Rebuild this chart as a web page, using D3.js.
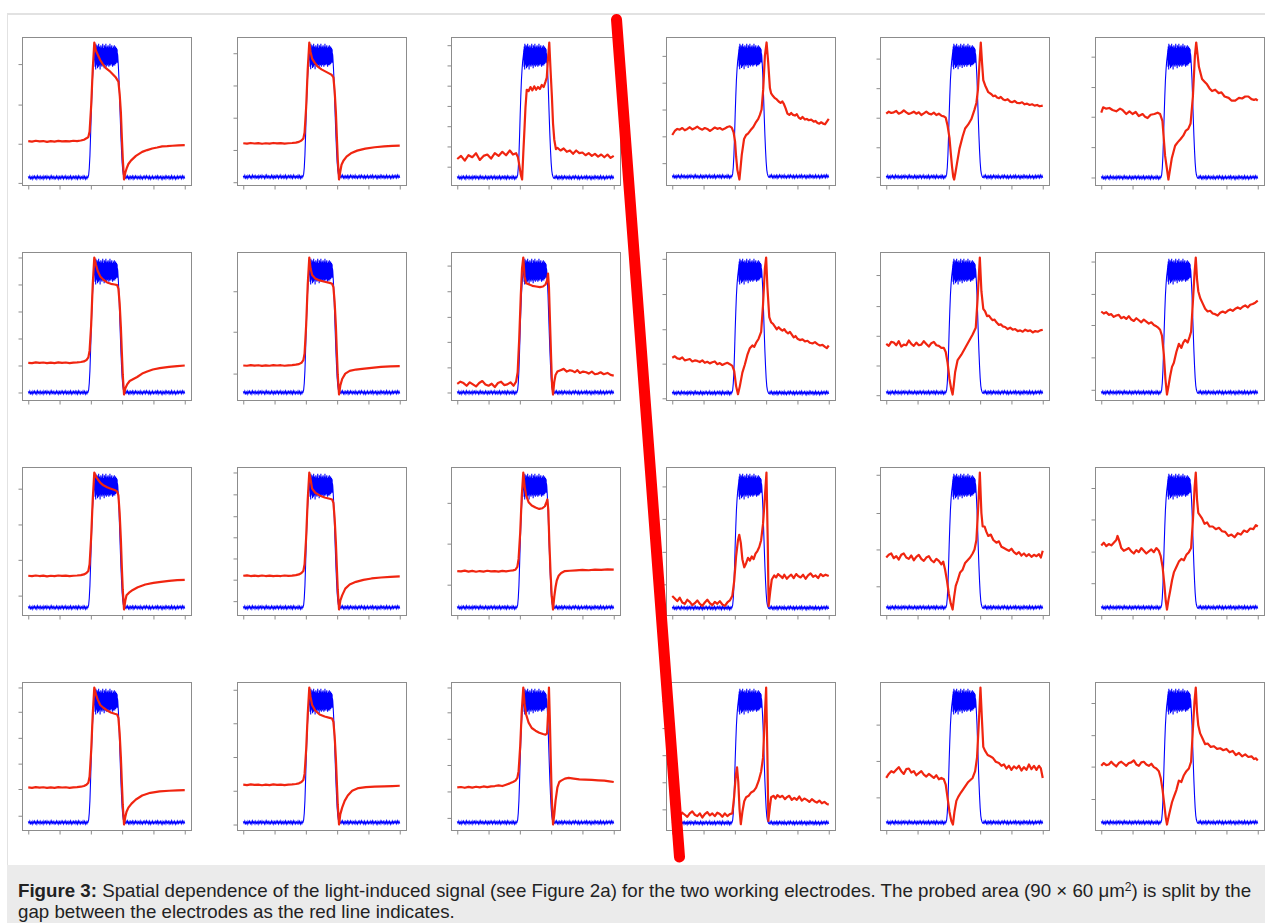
<!DOCTYPE html>
<html>
<head>
<meta charset="utf-8">
<script src="https://cdn.jsdelivr.net/npm/d3@7"></script>
<style>
html,body{margin:0;padding:0;background:#fff;}
svg{display:block;}
</style>
</head>
<body>
<svg id="fig" width="1265" height="923"></svg>
<script>
// ---------------- DATA ----------------
// time axis (arbitrary units, 0..250) and normalized signal (0 = light off level, 1 = peak)
const xTicks = [0, 50, 100, 150, 200, 250];

// blue reference trace (light pulse), same in every panel
const blueBefore = [0.008,-0.006,0.011,-0.009,0.004,-0.012,0.009,-0.005,0.010,-0.008,
 0.006,-0.011,0.012,-0.004,0.007,-0.010,0.009,-0.007,0.005,-0.012,
 0.010,-0.006,0.008,-0.009,0.011,-0.005,0.006,-0.011,0.009,-0.008,
 0.012,-0.006,0.007,-0.010,0.005,-0.009,0.011,-0.007,0.008,-0.012,
 0.006,-0.008,0.010,-0.005,0.009,-0.011,0.007,-0.006,0.012,-0.009,
 0.005,-0.010,0.008,-0.007,0.011,-0.012,0.006,-0.008,0.009,-0.005,
 0.010,-0.009,0.007,-0.011,0.012,-0.006,0.008,-0.010,0.005,-0.007,
 0.011,-0.008,0.009,-0.012,0.006,-0.009,0.007];
const blueRise = [[95.5,0.004],[96.5,0.02],[97.5,0.07],[98.5,0.16],[99.5,0.3],[100.5,0.46],[101.5,0.6],[102.5,0.72],[103.5,0.8],[104.5,0.86],[105.5,0.9],[106.25,0.93]];
const bluePlateau = [0.95,0.82,0.97,0.86,0.92,0.80,0.99,0.85,0.94,0.83,0.96,0.87,0.91,0.84,0.98,0.86,0.93,0.81,0.97,0.88,
 0.94,0.84,0.96,0.82,0.99,0.87,0.92,0.85,0.95,0.83,0.97,0.86,0.93,0.80,0.96,0.88,0.94,0.84,0.98,0.85,
 0.92,0.83,0.96,0.87,0.94,0.82,0.97,0.86,0.91,0.84,0.99,0.85,0.95,0.83,0.93,0.88,0.96,0.84,0.94,0.81,
 0.98,0.86,0.92,0.84,0.97,0.87,0.95,0.83,0.93,0.85,0.99,0.86,0.94,0.82,0.96,0.88,0.92,0.84,0.97,0.85,
 0.95,0.83,0.93,0.87,0.98,0.84,0.94,0.86,0.96,0.82,0.92,0.88,0.97,0.85,0.95,0.83,0.99,0.86,0.93,0.84,
 0.96,0.87,0.94,0.83,0.97,0.85,0.92,0.86,0.98,0.84,0.95,0.88,0.93,0.82,0.96,0.86,0.94,0.85,0.97,0.83,
 0.95,0.87,0.93,0.84,0.98,0.86,0.94,0.83,0.96,0.88,0.92,0.85,0.97,0.84,0.95,0.86,0.93,0.85,0.96,0.87,
 0.94,0.86,0.95,0.85,0.92];
const blueFall = [[143,0.9],[144,0.82],[145,0.72],[146,0.58],[147,0.44],[148,0.31],[149,0.2],[150,0.11],[151,0.05],[152,0.02],[153,0.006],[154,-0.004]];
const blueAfter = [-0.007,0.010,-0.005,0.012,-0.009,0.006,-0.011,0.008,-0.006,0.010,
 -0.012,0.007,-0.008,0.011,-0.005,0.009,-0.010,0.006,-0.007,0.012,
 -0.009,0.005,-0.011,0.008,-0.006,0.010,-0.008,0.012,-0.005,0.007,
 -0.010,0.009,-0.012,0.006,-0.007,0.011,-0.009,0.005,-0.008,0.010,
 -0.006,0.012,-0.011,0.007,-0.005,0.009,-0.010,0.008,-0.012,0.006,
 -0.007,0.011,-0.009,0.010,-0.005,0.008,-0.011,0.006,-0.008,0.012,
 -0.010,0.007,-0.006,0.009,-0.012,0.005,-0.009,0.011,-0.007,0.008,
 -0.005,0.010,-0.008,0.012,-0.006,0.009,-0.007];

// red traces (light-induced signal), one per panel: [time, value]
const r0c0 = [[0,0.27],[6,0.266],[12,0.272],[18,0.267],[24,0.27],[30,0.264],[36,0.269],[42,0.266],[48,0.271],[54,0.267],[60,0.27],[66,0.268],[72,0.272],[78,0.27],[84,0.274],[89,0.28],[93,0.29],[96,0.30],[98,0.34],[100.5,0.53],[103,0.8],[105.5,1.0],[108,0.94],[111,0.91],[115,0.87],[119,0.84],[124,0.81],[129.5,0.79],[135,0.765],[140,0.74],[144,0.71],[146,0.62],[148,0.48],[149.5,0.3],[151,0.14],[153,-0.015],[155,0.035],[157,0.065],[160,0.1],[164,0.125],[172,0.16],[182,0.19],[190,0.203],[198,0.215],[206,0.222],[214,0.23],[222,0.232],[230,0.235],[240,0.238],[250,0.24]];
const r0c1 = [[0,0.25],[6,0.247],[12,0.252],[18,0.248],[24,0.251],[30,0.246],[36,0.25],[42,0.247],[48,0.252],[54,0.249],[60,0.251],[66,0.247],[72,0.25],[78,0.252],[84,0.255],[89,0.26],[93,0.27],[96,0.285],[98,0.33],[100.5,0.52],[103,0.8],[105.5,1.0],[107.5,0.93],[110,0.88],[114,0.85],[119,0.82],[125,0.8],[131,0.785],[137,0.77],[141,0.76],[144,0.74],[146,0.64],[148,0.48],[149.5,0.3],[151,0.13],[153,-0.02],[155,0.04],[157,0.09],[160,0.12],[165,0.15],[172,0.175],[182,0.195],[195,0.21],[210,0.22],[225,0.226],[238,0.23],[250,0.232]];
const r0c2 = [[0,0.137],[6,0.16],[12,0.125],[18,0.165],[24,0.15],[30,0.18],[36,0.13],[42,0.16],[48,0.17],[54,0.14],[60,0.18],[66,0.16],[72,0.19],[78,0.165],[84,0.2],[89,0.17],[94,0.18],[97,0.15],[99.5,0.08],[101.5,0.02],[103.6,-0.015],[105.5,0.18],[107.4,0.36],[109,0.52],[111,0.65],[114,0.64],[117,0.67],[120,0.645],[123,0.675],[126,0.65],[129,0.67],[132,0.655],[135,0.685],[138,0.67],[141,0.71],[143,0.74],[144.5,0.85],[147,1.0],[149,0.8],[151.2,0.6],[153,0.4],[155,0.28],[157.6,0.21],[160,0.22],[165,0.2],[170,0.215],[175,0.19],[180,0.2],[185,0.175],[190,0.2],[195,0.18],[200,0.185],[205,0.165],[210,0.18],[215,0.16],[220,0.175],[225,0.155],[230,0.17],[235,0.15],[240,0.17],[245,0.145],[250,0.16]];
const r0c3 = [[0,0.31],[4,0.34],[8,0.355],[12,0.35],[16,0.362],[20,0.345],[24,0.355],[28,0.368],[32,0.352],[36,0.36],[40,0.372],[44,0.358],[48,0.35],[52,0.362],[56,0.355],[60,0.34],[64,0.352],[68,0.366],[72,0.356],[76,0.362],[80,0.35],[84,0.358],[88,0.37],[92,0.375],[95,0.365],[98,0.33],[100.4,0.26],[102,0.15],[104,0.05],[107.3,-0.022],[109,0.06],[111,0.16],[114.7,0.28],[118,0.31],[121,0.32],[125,0.345],[129.5,0.37],[133,0.4],[137.4,0.43],[140,0.46],[142.7,0.5],[145.3,0.65],[148,0.9],[150.7,1.0],[153.3,0.85],[156,0.66],[158,0.62],[161,0.6],[164,0.585],[167,0.575],[170,0.56],[173,0.55],[176,0.56],[178,0.545],[181,0.51],[184,0.47],[187,0.46],[190,0.475],[193,0.46],[196,0.455],[199,0.465],[202,0.44],[205,0.43],[208,0.445],[212,0.425],[215,0.43],[218,0.42],[222,0.425],[226,0.41],[229,0.415],[232,0.4],[235,0.395],[238,0.405],[241,0.395],[244,0.39],[247,0.41],[250,0.43]];
const r0c4 = [[0,0.47],[4,0.485],[8,0.475],[12,0.48],[16,0.49],[20,0.47],[24,0.478],[28,0.495],[32,0.48],[36,0.468],[40,0.475],[44,0.485],[48,0.47],[52,0.48],[56,0.46],[60,0.472],[64,0.485],[68,0.47],[72,0.465],[76,0.478],[80,0.46],[84,0.47],[88,0.455],[92,0.45],[95,0.44],[98,0.38],[101,0.29],[103,0.18],[105,0.08],[107,0.0],[108.5,-0.02],[110.5,0.03],[113,0.1],[117,0.21],[122,0.3],[126,0.36],[131,0.39],[136,0.43],[141,0.5],[144,0.55],[146.5,0.65],[149,0.85],[151,1.0],[153,0.85],[155,0.72],[158,0.68],[163,0.63],[168,0.615],[171,0.6],[174,0.605],[177,0.59],[180,0.585],[183,0.595],[187,0.575],[190,0.57],[194,0.578],[198,0.56],[201,0.555],[205,0.565],[209,0.55],[213,0.548],[217,0.555],[221,0.54],[225,0.545],[229,0.535],[233,0.54],[237,0.53],[241,0.535],[245,0.525],[250,0.53]];
const r0c5 = [[0,0.48],[3,0.52],[8,0.51],[13,0.515],[18,0.5],[24,0.49],[30,0.51],[34,0.5],[40,0.47],[45,0.49],[50,0.47],[55,0.485],[60,0.455],[66,0.47],[70,0.45],[74,0.44],[79,0.465],[85,0.47],[90,0.48],[94,0.47],[97.7,0.42],[102,0.16],[107.3,-0.015],[112.6,0.14],[118,0.235],[122,0.26],[126.8,0.285],[131,0.31],[134.8,0.345],[139,0.36],[142.7,0.4],[146.4,0.6],[149.6,0.9],[151.7,1.0],[156,0.82],[161,0.73],[165,0.71],[169,0.69],[173,0.66],[177,0.64],[182,0.65],[187.6,0.625],[192,0.63],[197,0.6],[203.5,0.59],[208,0.57],[214,0.57],[220,0.59],[225,0.585],[230,0.6],[235,0.6],[240,0.58],[244,0.575],[247,0.58],[250,0.57]];

const r1c0 = [[0,0.22],[6,0.218],[12,0.223],[18,0.219],[24,0.222],[30,0.217],[36,0.221],[42,0.218],[48,0.223],[54,0.22],[60,0.222],[66,0.218],[72,0.221],[78,0.223],[84,0.226],[89,0.23],[93,0.24],[96,0.26],[98,0.31],[100.5,0.5],[103,0.8],[105.5,1.0],[108,0.95],[111,0.9],[115,0.86],[120,0.835],[126,0.815],[132,0.805],[138,0.8],[142,0.795],[144,0.77],[146,0.66],[148,0.48],[149.5,0.3],[151,0.13],[153,-0.015],[155,0.03],[158,0.06],[162,0.085],[168,0.1],[174,0.115],[182,0.14],[190,0.155],[199,0.17],[210,0.18],[225,0.19],[238,0.196],[250,0.2]];
const r1c1 = [[0,0.2],[6,0.198],[12,0.203],[18,0.199],[24,0.202],[30,0.197],[36,0.201],[42,0.198],[48,0.203],[54,0.2],[60,0.202],[66,0.198],[72,0.201],[78,0.203],[84,0.206],[89,0.21],[93,0.22],[96,0.24],[98,0.29],[100.5,0.5],[103,0.8],[105.5,1.0],[107.5,0.92],[110,0.87],[115,0.845],[122,0.83],[130,0.82],[138,0.812],[142,0.805],[144,0.78],[146,0.67],[148,0.49],[149.5,0.3],[151,0.13],[153,-0.015],[155,0.05],[158,0.1],[163,0.14],[170,0.16],[180,0.17],[190,0.175],[205,0.183],[220,0.19],[235,0.193],[250,0.195]];
const r1c2 = [[0,0.064],[5,0.08],[10,0.07],[15,0.05],[20,0.075],[25,0.06],[30,0.045],[35,0.07],[40,0.085],[45,0.06],[50,0.05],[55,0.065],[60,0.04],[65,0.07],[70,0.08],[75,0.055],[80,0.06],[85,0.075],[90,0.05],[94,0.08],[96.5,0.15],[99,0.4],[101.5,0.72],[103.5,0.92],[105.5,1.0],[107.5,0.86],[110,0.81],[115,0.8],[120,0.79],[126,0.785],[132,0.78],[137,0.785],[141,0.8],[143.5,0.83],[145,0.88],[146.5,0.78],[148,0.55],[150,0.25],[151.5,0.05],[153,-0.015],[155,0.08],[157,0.13],[160,0.155],[165,0.165],[170,0.175],[175,0.155],[180,0.165],[184,0.16],[188,0.15],[192,0.165],[196,0.145],[201,0.155],[206,0.15],[210,0.14],[215,0.155],[220,0.135],[225,0.14],[229,0.15],[234,0.135],[240,0.145],[245,0.13],[250,0.125]];
const r1c3 = [[0,0.26],[4,0.27],[8,0.255],[12,0.25],[16,0.262],[20,0.24],[24,0.245],[28,0.25],[32,0.232],[36,0.24],[40,0.236],[44,0.228],[48,0.24],[52,0.222],[56,0.23],[60,0.218],[64,0.226],[68,0.232],[72,0.212],[76,0.22],[80,0.206],[84,0.215],[88,0.222],[92,0.212],[96,0.2],[99,0.16],[102,0.05],[105,-0.01],[108,0.05],[112,0.15],[116,0.21],[120,0.28],[124,0.33],[128,0.35],[131,0.34],[134,0.37],[138,0.4],[142,0.45],[145,0.65],[148,0.92],[150,1.0],[152,0.78],[155,0.56],[158,0.52],[161,0.51],[164,0.49],[167,0.47],[170,0.485],[173,0.47],[176,0.46],[179,0.47],[182,0.45],[185,0.44],[188,0.45],[191,0.43],[194,0.41],[197,0.42],[200,0.4],[204,0.39],[208,0.395],[212,0.38],[216,0.385],[220,0.37],[224,0.365],[228,0.375],[232,0.36],[236,0.35],[240,0.355],[244,0.34],[247,0.33],[250,0.35]];
const r1c4 = [[0,0.36],[4,0.345],[8,0.375],[12,0.37],[16,0.35],[20,0.38],[24,0.34],[28,0.355],[32,0.35],[36,0.385],[40,0.36],[44,0.345],[48,0.37],[52,0.35],[56,0.355],[60,0.38],[64,0.36],[68,0.34],[72,0.365],[76,0.375],[80,0.35],[84,0.345],[88,0.33],[92,0.33],[95,0.3],[98,0.22],[101,0.1],[104,0.02],[106,-0.015],[108,0.06],[110,0.15],[114,0.24],[120,0.28],[126,0.33],[132,0.38],[138,0.43],[143,0.48],[146,0.7],[149.5,1.0],[152,0.75],[155,0.62],[158,0.6],[161,0.565],[164,0.57],[167,0.55],[170,0.535],[173,0.54],[176,0.52],[180,0.5],[183,0.505],[186,0.49],[190,0.485],[194,0.47],[198,0.48],[202,0.465],[206,0.47],[210,0.455],[214,0.46],[218,0.45],[222,0.465],[226,0.455],[230,0.46],[234,0.445],[238,0.455],[242,0.45],[246,0.46],[250,0.465]];
const r1c5 = [[0,0.6],[4,0.585],[8,0.595],[12,0.575],[16,0.58],[20,0.56],[24,0.57],[28,0.575],[32,0.55],[36,0.56],[40,0.545],[44,0.565],[48,0.54],[52,0.53],[56,0.55],[60,0.535],[64,0.52],[68,0.54],[72,0.525],[76,0.51],[80,0.52],[84,0.5],[88,0.49],[91,0.48],[94,0.465],[97,0.42],[100,0.28],[102.5,0.1],[105,-0.015],[107.5,0.05],[110,0.12],[113,0.19],[116,0.22],[120,0.3],[124,0.36],[128,0.33],[131,0.37],[134,0.39],[138,0.37],[141,0.41],[143.5,0.45],[146.5,0.68],[149,0.88],[151,1.0],[153,0.84],[155,0.75],[158,0.7],[162,0.66],[166,0.62],[170,0.6],[174,0.605],[178,0.585],[182,0.58],[186,0.57],[190,0.59],[194,0.6],[198,0.59],[202,0.605],[206,0.615],[210,0.605],[214,0.62],[218,0.63],[222,0.62],[226,0.635],[230,0.645],[234,0.63],[238,0.65],[242,0.655],[246,0.665],[250,0.68]];

const r2c0 = [[0,0.235],[6,0.232],[12,0.237],[18,0.233],[24,0.236],[30,0.231],[36,0.235],[42,0.232],[48,0.237],[54,0.234],[60,0.236],[66,0.232],[72,0.235],[78,0.237],[84,0.24],[89,0.245],[93,0.255],[96,0.27],[98,0.32],[100.5,0.52],[103,0.8],[105.5,1.0],[108,0.97],[111,0.95],[115,0.925],[120,0.905],[126,0.89],[132,0.88],[138,0.87],[142,0.86],[144,0.83],[146,0.7],[148,0.5],[149.5,0.3],[151,0.13],[153,-0.015],[155,0.05],[157,0.09],[161,0.11],[167,0.13],[175,0.15],[187,0.17],[200,0.182],[212,0.19],[225,0.197],[238,0.202],[250,0.205]];
const r2c1 = [[0,0.235],[6,0.238],[12,0.233],[18,0.236],[24,0.232],[30,0.237],[36,0.233],[42,0.236],[48,0.232],[54,0.235],[60,0.233],[66,0.237],[72,0.234],[78,0.236],[84,0.24],[89,0.245],[93,0.255],[96,0.27],[98,0.32],[100.5,0.52],[103,0.8],[105.5,1.0],[107.5,0.95],[110,0.88],[115,0.85],[122,0.83],[130,0.815],[138,0.805],[142,0.8],[144,0.775],[146,0.66],[148,0.48],[149.5,0.3],[151,0.13],[153,-0.015],[155,0.05],[158,0.09],[163,0.14],[170,0.17],[180,0.19],[192,0.205],[205,0.215],[220,0.222],[235,0.227],[250,0.23]];
const r2c2 = [[0,0.27],[6,0.267],[12,0.273],[18,0.266],[24,0.271],[30,0.265],[36,0.27],[42,0.266],[48,0.272],[54,0.268],[60,0.27],[66,0.266],[72,0.271],[78,0.268],[84,0.272],[89,0.275],[93,0.28],[96,0.3],[98,0.36],[100.5,0.55],[103,0.82],[105.5,1.0],[107.5,0.9],[110,0.83],[114,0.78],[119,0.755],[125,0.74],[131,0.73],[136,0.735],[140,0.75],[142.5,0.78],[144,0.8],[145.5,0.72],[147,0.5],[149,0.26],[151,0.08],[153,-0.015],[155,0.08],[157,0.15],[159,0.2],[162,0.235],[166,0.255],[172,0.27],[180,0.272],[190,0.275],[200,0.278],[210,0.276],[220,0.28],[230,0.278],[240,0.282],[250,0.28]];
const r2c3 = [[0,0.088],[4,0.07],[8,0.05],[12,0.075],[16,0.04],[20,0.03],[24,0.06],[28,0.045],[32,0.02],[36,0.035],[40,0.055],[44,0.03],[48,0.015],[52,0.04],[56,0.06],[60,0.035],[64,0.02],[68,0.045],[72,0.03],[76,0.05],[80,0.025],[84,0.015],[88,0.04],[92,0.055],[96,0.09],[99,0.2],[102,0.38],[105,0.5],[107,0.54],[109.5,0.48],[112,0.36],[115,0.3],[118,0.33],[121,0.37],[124,0.35],[127,0.38],[130,0.36],[133,0.4],[136,0.42],[139,0.45],[142,0.5],[145,0.62],[148,0.82],[150.5,1.0],[152.5,0.5],[154,0.015],[156.5,0.12],[159,0.21],[163,0.24],[166,0.225],[169,0.25],[173,0.235],[176,0.22],[179,0.245],[183,0.215],[186,0.23],[190,0.245],[194,0.22],[198,0.25],[201,0.235],[205,0.225],[209,0.245],[213,0.215],[217,0.24],[221,0.255],[225,0.23],[229,0.24],[233,0.22],[237,0.25],[241,0.235],[245,0.245],[250,0.235]];
const r2c4 = [[0,0.37],[4,0.39],[8,0.4],[12,0.365],[16,0.38],[20,0.355],[24,0.39],[28,0.4],[32,0.37],[36,0.36],[40,0.385],[44,0.35],[48,0.375],[52,0.39],[56,0.36],[60,0.345],[64,0.37],[68,0.38],[72,0.35],[76,0.335],[80,0.36],[84,0.345],[88,0.32],[91,0.34],[94,0.28],[97,0.2],[100,0.1],[103,0.03],[106,-0.015],[108.5,0.08],[111,0.16],[114,0.2],[118,0.26],[122,0.28],[126,0.33],[130,0.35],[134,0.37],[138,0.4],[141,0.43],[144,0.5],[147,0.75],[149.5,1.0],[152,0.7],[154,0.6],[157,0.6],[160,0.56],[163,0.53],[167,0.54],[171,0.5],[176,0.48],[180,0.49],[184,0.45],[188,0.44],[192,0.43],[196,0.42],[200,0.435],[204,0.41],[208,0.395],[212,0.41],[216,0.385],[220,0.4],[224,0.38],[228,0.395],[232,0.375],[236,0.39],[240,0.38],[244,0.395],[247,0.37],[250,0.42]];
const r2c5 = [[0,0.46],[4,0.48],[8,0.455],[12,0.47],[16,0.46],[20,0.48],[24,0.5],[26,0.53],[29,0.49],[32,0.44],[36,0.42],[40,0.43],[44,0.44],[48,0.415],[52,0.4],[56,0.425],[60,0.41],[64,0.44],[68,0.42],[72,0.4],[76,0.415],[80,0.43],[84,0.41],[88,0.44],[92,0.42],[95,0.38],[98,0.3],[101,0.16],[103,0.05],[105,-0.015],[107.5,0.06],[110,0.12],[113,0.2],[116,0.26],[120,0.3],[124,0.34],[128,0.36],[132,0.35],[136,0.39],[140,0.41],[143.5,0.44],[146.5,0.65],[149,0.88],[151,1.0],[153,0.8],[155,0.7],[158,0.68],[161,0.66],[165,0.62],[169,0.63],[173,0.6],[178,0.6],[183,0.58],[188,0.59],[193,0.565],[198,0.56],[203,0.53],[208,0.54],[213,0.52],[218,0.55],[223,0.54],[228,0.57],[233,0.56],[238,0.585],[243,0.58],[247,0.61],[250,0.6]];

const r3c0 = [[0,0.26],[6,0.257],[12,0.262],[18,0.258],[24,0.261],[30,0.256],[36,0.26],[42,0.257],[48,0.262],[54,0.259],[60,0.261],[66,0.257],[72,0.26],[78,0.262],[84,0.265],[89,0.27],[93,0.28],[96,0.295],[98,0.34],[100.5,0.53],[103,0.8],[105.5,1.0],[108,0.95],[111,0.91],[115,0.87],[120,0.85],[126,0.83],[132,0.815],[138,0.805],[142,0.8],[144,0.775],[146,0.66],[148,0.48],[149.5,0.3],[151,0.13],[153,-0.015],[155,0.04],[157,0.08],[160,0.11],[165,0.14],[172,0.17],[182,0.2],[195,0.22],[210,0.23],[225,0.235],[238,0.238],[250,0.24]];
const r3c1 = [[0,0.28],[6,0.277],[12,0.282],[18,0.278],[24,0.281],[30,0.276],[36,0.28],[42,0.277],[48,0.282],[54,0.279],[60,0.281],[66,0.277],[72,0.28],[78,0.282],[84,0.285],[89,0.29],[93,0.3],[96,0.315],[98,0.36],[100.5,0.54],[103,0.8],[105.5,1.0],[107.5,0.93],[110,0.87],[115,0.83],[122,0.8],[130,0.785],[138,0.775],[142,0.77],[144,0.745],[146,0.64],[148,0.47],[149.5,0.3],[151,0.13],[153,-0.015],[155,0.06],[158,0.11],[162,0.16],[167,0.2],[174,0.235],[184,0.255],[196,0.262],[210,0.266],[225,0.268],[238,0.27],[250,0.272]];
const r3c2 = [[0,0.26],[6,0.263],[12,0.257],[18,0.264],[24,0.258],[30,0.265],[36,0.26],[42,0.267],[48,0.262],[54,0.268],[60,0.27],[66,0.275],[72,0.27],[78,0.28],[84,0.29],[89,0.3],[93,0.31],[96,0.33],[98,0.38],[100.5,0.56],[103,0.82],[105.5,1.0],[107.5,0.88],[110,0.8],[114,0.74],[119,0.7],[125,0.68],[131,0.665],[137,0.655],[141,0.65],[143.5,0.66],[145,0.8],[146.5,1.0],[148,0.75],[149.5,0.45],[151,0.18],[153,-0.015],[155,0.06],[157,0.16],[160,0.26],[163,0.3],[166,0.31],[172,0.325],[178,0.33],[186,0.325],[195,0.32],[204,0.318],[215,0.315],[225,0.312],[235,0.31],[243,0.305],[250,0.3]];
const r3c3 = [[0,0.064],[4,0.08],[8,0.07],[12,0.05],[16,0.075],[20,0.06],[24,0.045],[28,0.07],[32,0.085],[36,0.06],[40,0.05],[44,0.07],[48,0.04],[52,0.065],[56,0.08],[60,0.055],[64,0.07],[68,0.05],[72,0.075],[76,0.065],[80,0.045],[84,0.07],[88,0.05],[92,0.065],[96,0.07],[99,0.2],[101.5,0.35],[103.5,0.41],[105.5,0.3],[107.5,0.1],[109.5,-0.01],[112,0.08],[115,0.16],[118,0.19],[122,0.2],[126,0.225],[130,0.235],[134,0.26],[138,0.31],[142,0.38],[145,0.48],[147.5,0.75],[150,1.0],[152,0.5],[153.5,0.015],[156,0.12],[158,0.19],[162,0.2],[165,0.18],[168,0.205],[172,0.19],[176,0.2],[180,0.175],[183,0.19],[187,0.2],[191,0.17],[195,0.185],[199,0.17],[203,0.195],[207,0.165],[211,0.18],[215,0.17],[219,0.155],[223,0.175],[227,0.16],[231,0.15],[235,0.165],[239,0.145],[243,0.155],[247,0.14],[250,0.135]];
const r3c4 = [[0,0.33],[4,0.36],[8,0.38],[12,0.37],[16,0.39],[20,0.41],[24,0.38],[28,0.36],[32,0.395],[36,0.4],[40,0.37],[44,0.38],[48,0.35],[52,0.365],[56,0.38],[60,0.355],[64,0.34],[68,0.36],[72,0.345],[76,0.33],[80,0.35],[84,0.32],[88,0.33],[92,0.32],[95,0.28],[98,0.18],[101,0.08],[104,0.01],[106.5,-0.015],[109,0.08],[112,0.16],[115,0.19],[119,0.22],[125,0.26],[131,0.3],[138,0.33],[142,0.38],[145,0.48],[148,0.75],[150.5,1.0],[153,0.75],[155,0.56],[158,0.53],[162,0.5],[166,0.49],[170,0.48],[175,0.45],[180,0.44],[184,0.42],[188,0.43],[192,0.4],[196,0.42],[200,0.39],[204,0.415],[208,0.4],[212,0.42],[216,0.385],[220,0.41],[224,0.39],[228,0.43],[232,0.395],[236,0.42],[240,0.39],[244,0.42],[247,0.4],[250,0.33]];
const r3c5 = [[0,0.42],[4,0.44],[8,0.425],[12,0.43],[16,0.45],[20,0.43],[24,0.415],[28,0.44],[32,0.45],[36,0.435],[40,0.42],[44,0.44],[48,0.445],[52,0.46],[56,0.43],[60,0.42],[64,0.445],[68,0.45],[72,0.43],[76,0.42],[80,0.435],[84,0.41],[88,0.4],[92,0.38],[95,0.33],[98,0.24],[101,0.12],[103,0.04],[105,-0.015],[107.5,0.04],[110,0.09],[113,0.15],[116,0.19],[120,0.24],[124,0.31],[128,0.3],[132,0.35],[136,0.38],[140,0.4],[143.5,0.45],[146.5,0.7],[149,0.9],[151,1.0],[153,0.82],[155,0.72],[158,0.66],[162,0.62],[166,0.58],[170,0.585],[175,0.56],[180,0.565],[185,0.545],[190,0.55],[195,0.535],[200,0.545],[205,0.52],[210,0.53],[215,0.5],[220,0.515],[225,0.49],[230,0.505],[235,0.485],[240,0.49],[244,0.47],[247,0.475],[250,0.46]];

// y tick positions (normalized units) per panel, row by row
const yTicksRow0 = [[-0.04,0.25,0.54,0.84],[-0.04,0.2,0.44,0.68,0.92],[0.08,0.23,0.38,0.53,0.68,0.83,0.98],[0.1,0.3,0.5,0.7,0.9],[0.0,0.22,0.44,0.66,0.88],[0.0,0.225,0.45,0.67,0.895]];
const yTicksRow1 = [[0,0.2,0.4,0.6,0.8,1.0],[0.14,0.45,0.75],[0,0.186,0.375,0.56,0.75,0.94],[-0.04,0.216,0.47,0.73,0.99],[-0.02,0.2,0.42,0.64,0.87],[0.02,0.26,0.5,0.73,0.97]];
const yTicksRow2 = [[0.088,0.353,0.615,0.88],[0.047,0.206,0.363,0.52,0.676,0.838,1.0],[0.169,0.473,0.775],[-0.04,0.174,0.414,0.657,0.897],[0.157,0.43,0.7,0.983],[0.18,0.414,0.652,0.885]];
const yTicksRow3 = [[0.05,0.248,0.436,0.627,0.82,1.0],[-0.015,0.235,0.485,0.735,0.983],[0.034,0.23,0.426,0.62,0.816,1.0],[0.1,0.3,0.5,0.7,0.9],[0.186,0.456,0.725],[0.174,0.414,0.647,0.885]];

const captionBold = "Figure 3:";
const captionLine1a = " Spatial dependence of the light-induced signal (see Figure 2a) for the two working electrodes. The probed area (90 \u00d7 60 \u03bcm";
const captionSup = "2";
const captionLine1b = ") is split by the";
const captionLine2 = "gap between the electrodes as the red line indicates.";

// ---------------- DRAWING ----------------
const redRows = [
  [r0c0, r0c1, r0c2, r0c3, r0c4, r0c5],
  [r1c0, r1c1, r1c2, r1c3, r1c4, r1c5],
  [r2c0, r2c1, r2c2, r2c3, r2c4, r2c5],
  [r3c0, r3c1, r3c2, r3c3, r3c4, r3c5]
];
const tickRows = [yTicksRow0, yTicksRow1, yTicksRow2, yTicksRow3];

const blue = [].concat(
  blueBefore.map((v, i) => [i * 1.25, v]),
  blueRise,
  bluePlateau.map((v, i) => [106.5 + i * 0.25, v]),
  blueFall,
  blueAfter.map((v, i) => [155 + i * 1.25, v])
);

const svg = d3.select("#fig");
const FONT = "'Liberation Sans', Arial, Helvetica, sans-serif";

// outer frame
svg.append("line").attr("x1", 7).attr("x2", 1265).attr("y1", 14).attr("y2", 14)
  .attr("stroke", "#e2e2e2").attr("stroke-width", 2);
svg.append("line").attr("x1", 7.5).attr("x2", 7.5).attr("y1", 13).attr("y2", 866)
  .attr("stroke", "#e2e2e2").attr("stroke-width", 1);

const boxLeft0 = 22, colStep = 214.5, boxTop0 = 37, rowStep = 215, boxW = 169, boxH = 148;
const axisColor = "#8c8c8c";

redRows.forEach((row, r) => {
  row.forEach((red, c) => {
    const bx = Math.round(boxLeft0 + c * colStep);
    const by = boxTop0 + r * rowStep;
    const x = d3.scaleLinear().domain([-10, 260]).range([bx, bx + boxW]);
    const ext = d3.extent(red.concat(blue), d => d[1]);
    const pad = (ext[1] - ext[0]) * 0.04;
    const y = d3.scaleLinear().domain([ext[0] - pad, ext[1] + pad]).range([by + boxH, by]);
    const g = svg.append("g");

    // axes ticks
    const xa = g.append("g").attr("transform", `translate(0,${by + boxH + 0.5})`)
      .call(d3.axisBottom(x).tickValues(xTicks).tickSize(4).tickFormat(""));
    const yv = tickRows[r][c].filter(v => v >= y.domain()[0] && v <= y.domain()[1]);
    const ya = g.append("g").attr("transform", `translate(${bx + 0.5},0)`)
      .call(d3.axisLeft(y).tickValues(yv).tickSize(4).tickFormat(""));
    [xa, ya].forEach(a => {
      a.select(".domain").remove();
      a.selectAll("line").attr("stroke", axisColor).attr("stroke-width", 1);
    });

    // box
    g.append("rect").attr("x", bx + 0.5).attr("y", by + 0.5).attr("width", boxW).attr("height", boxH)
      .attr("fill", "none").attr("stroke", axisColor).attr("stroke-width", 1);

    const line = d3.line().x(d => x(d[0])).y(d => y(d[1]));
    g.append("path").datum(blue).attr("d", line)
      .attr("fill", "none").attr("stroke", "#0000ff").attr("stroke-width", 1.1)
      .attr("stroke-linejoin", "miter");
    g.append("path").datum(red).attr("d", line)
      .attr("fill", "none").attr("stroke", "#f02510").attr("stroke-width", 2.2)
      .attr("stroke-linejoin", "round");
  });
});

// caption
svg.append("rect").attr("x", 7).attr("y", 865).attr("width", 1258).attr("height", 58).attr("fill", "#ebebeb");
const cap = svg.append("text").attr("x", 18).attr("y", 897)
  .style("font-family", FONT).style("font-size", "17px").attr("fill", "#222");
cap.append("tspan").attr("font-weight", "bold").text(captionBold);
cap.append("tspan").text(captionLine1a);
const sup = cap.append("tspan").attr("dy", -6).style("font-size", "11px").text(captionSup);
cap.append("tspan").attr("dy", 6).text(captionLine1b);
const cap2 = svg.append("text").attr("x", 18).attr("y", 918)
  .style("font-family", FONT).style("font-size", "17px").attr("fill", "#222").text(captionLine2);
// fit first line to its width in the reference
const len = cap.node().getComputedTextLength();
const k = 1234 / len;
cap.style("font-size", (17 * k) + "px");
sup.style("font-size", (11 * k) + "px");
cap2.style("font-size", (17 * k) + "px");

// thick red line showing the gap between electrodes
svg.append("line").attr("x1", 616.5).attr("y1", 19.5).attr("x2", 679.5).attr("y2", 857)
  .attr("stroke", "#ff0000").attr("stroke-width", 11).attr("stroke-linecap", "round");
</script>
</body>
</html>
